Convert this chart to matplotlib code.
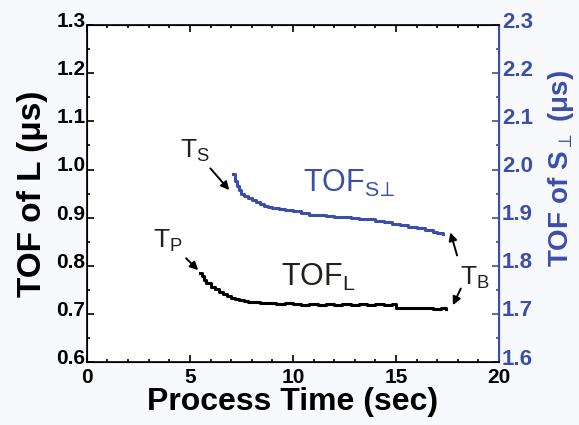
import numpy as np
import matplotlib
matplotlib.use("Agg")
import matplotlib.pyplot as plt
import matplotlib.transforms as mtransforms
from matplotlib.ticker import MultipleLocator

plt.rcParams['font.family'] = ['Liberation Sans', 'DejaVu Sans']
plt.rcParams['mathtext.fontset'] = 'custom'
plt.rcParams['mathtext.rm'] = 'Liberation Sans'
plt.rcParams['mathtext.bf'] = 'Liberation Sans:bold'

# TOF of L (black, left axis)
t_L = [5.5, 5.6, 5.7, 5.8, 6.0, 6.2, 6.4, 6.6, 6.8, 7.0, 7.2, 7.4, 7.6, 7.8, 8.0, 8.2,
       8.4, 8.8, 9.2, 9.6, 10.0, 10.4, 10.8, 11.2, 11.6, 12.0, 12.4, 12.8, 13.2, 13.6,
       14.0, 14.4, 14.8, 15.0, 15.2, 15.6, 16.0, 16.4, 16.8, 17.2, 17.4]
v_L = [0.786, 0.778, 0.771, 0.765, 0.757, 0.751, 0.745, 0.741, 0.737, 0.733, 0.731, 0.728,
       0.727, 0.725, 0.724, 0.725, 0.722, 0.723, 0.721, 0.722, 0.721, 0.719, 0.721, 0.719,
       0.720, 0.719, 0.720, 0.719, 0.720, 0.718, 0.720, 0.719, 0.720, 0.713, 0.713, 0.712,
       0.713, 0.712, 0.711, 0.712, 0.711]

# TOF of S-perp (blue, right axis)
t_S = [7.1, 7.2, 7.3, 7.4, 7.5, 7.6, 7.8, 8.0, 8.2, 8.4, 8.6, 8.8, 9.0, 9.3, 9.6, 10.0,
       10.4, 10.8, 11.2, 11.6, 12.0, 12.4, 12.8, 13.2, 13.6, 14.0, 14.4, 14.8, 15.2,
       15.6, 16.0, 16.4, 16.8, 17.0, 17.3]
v_S = [1.990, 1.976, 1.965, 1.957, 1.950, 1.946, 1.940, 1.936, 1.932, 1.929, 1.925, 1.923,
       1.921, 1.917, 1.915, 1.913, 1.909, 1.906, 1.905, 1.903, 1.902, 1.901, 1.900, 1.898,
       1.897, 1.893, 1.891, 1.887, 1.885, 1.881, 1.878, 1.875, 1.871, 1.869, 1.867]

blue = '#3b4ea8'
dark = '#231f1c'

fig = plt.figure(figsize=(5.79, 4.25), dpi=100, facecolor='#f8f9fc')
ax = fig.add_axes([0.150, 0.148, 0.712, 0.793])
ax2 = ax.twinx()

ax.step(t_L, v_L, where='post', color='black', lw=2.2)
ax2.step(t_S, v_S, where='post', color=blue, lw=2.2)

ax.set_xlim(0, 20)
ax.set_ylim(0.6, 1.3)
ax2.set_ylim(1.6, 2.3)

ax.xaxis.set_major_locator(MultipleLocator(5))
ax.xaxis.set_minor_locator(MultipleLocator(1))
ax.yaxis.set_major_locator(MultipleLocator(0.1))
ax.yaxis.set_minor_locator(MultipleLocator(0.05))
ax2.yaxis.set_major_locator(MultipleLocator(0.1))
ax2.yaxis.set_minor_locator(MultipleLocator(0.05))

ax.tick_params(which='both', direction='in', top=True, right=False, width=1.2)
ax.tick_params(which='major', length=5, labelsize=15, pad=1)
ax.tick_params(axis='x', which='major', pad=4)
ax.tick_params(which='minor', length=2.5)
ax2.tick_params(which='both', direction='in', colors=blue, width=1.2)
ax2.tick_params(which='major', length=5, labelsize=16, pad=2)
ax2.tick_params(which='minor', length=2.5)
for lab in ax.get_xticklabels() + ax.get_yticklabels() + ax2.get_yticklabels():
    lab.set_fontweight('bold')

# lift y tick labels a bit so the corner labels don't collide
lift = mtransforms.ScaledTranslation(0, 4 / 72, fig.dpi_scale_trans)
for lab in ax.get_yticklabels() + ax2.get_yticklabels():
    lab.set_transform(lab.get_transform() + lift)

for s in ['left', 'bottom', 'top']:
    ax2.spines[s].set_linewidth(1.2)
ax2.spines['right'].set_color(blue)
ax2.spines['right'].set_linewidth(1.5)

ax.set_xlabel('Process Time (sec)', fontsize=23, fontweight='bold', labelpad=0)
ax.set_ylabel('TOF of L (\u03bcs)', fontsize=24, fontweight='bold', labelpad=6)
ax2.set_ylabel('TOF of S$_{\\perp}$ (\u03bcs)', fontsize=20, fontweight='bold',
               color=blue, va='center')
ax2.yaxis.set_label_coords(1.15, 0.575)

# annotations
arr = dict(arrowstyle='-|>', color='black', lw=1.4, mutation_scale=12)
ax.annotate(r'T$_\mathregular{S}$', xy=(7.0, 0.953), xytext=(4.5, 1.04),
            fontsize=19, color=dark, va='center', arrowprops=arr)
ax.annotate(r'T$_\mathregular{P}$', xy=(5.5, 0.787), xytext=(3.2, 0.853),
            fontsize=19, color=dark, va='center', arrowprops=arr)
ax.text(10.5, 0.972, r'TOF$_{\mathregular{S}\!\perp}$', fontsize=22, color=blue, va='center')
ax.text(9.4, 0.776, r'TOF$_\mathregular{L}$', fontsize=22, color=dark, va='center')
ax.text(18.1, 0.775, r'T$_\mathregular{B}$', fontsize=19, color=dark, va='center')
ax.annotate('', xy=(17.6, 0.875), xytext=(18.0, 0.816), arrowprops=arr)
ax.annotate('', xy=(17.7, 0.713), xytext=(18.2, 0.758), arrowprops=arr)

fig.savefig('out.png', dpi=100, facecolor=fig.get_facecolor())
